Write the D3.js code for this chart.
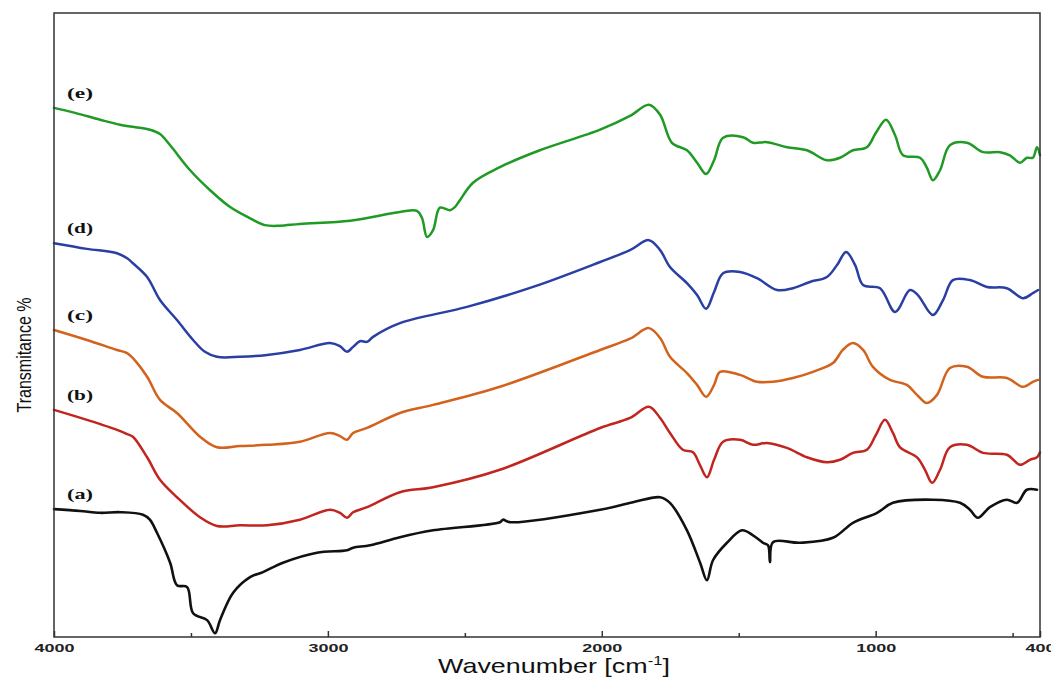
<!DOCTYPE html>
<html>
<head>
<meta charset="utf-8">
<script src="https://cdn.jsdelivr.net/npm/d3@7"></script>
<style>
  body { margin: 0; background: #fff; }
  svg { display: block; }
</style>
</head>
<body>
<svg id="chart" width="1051" height="677"></svg>
<script>
// FTIR spectra: [wavenumber (cm-1), transmittance (%)]
const seriesA = [[4000,20.5],[3905,20.2],[3832,19.9],[3759,20.0],[3675,19.6],[3650,18.8],[3624,16.7],[3576,11.9],[3551,8.3],[3514,8.0],[3492,3.8],[3441,2.7],[3412,0.6],[3394,2.7],[3346,7.1],[3284,9.6],[3237,10.4],[3164,11.9],[3040,13.5],[2930,13.9],[2908,14.3],[2846,14.7],[2737,16.0],[2616,17.1],[2372,18.4],[2361,18.8],[2335,18.4],[2006,20.4],[1886,21.6],[1787,22.4],[1751,21.5],[1689,17.1],[1641,11.9],[1616,9.1],[1594,12.3],[1543,15.1],[1488,17.1],[1448,16.3],[1411,15.1],[1393,14.7],[1386,12.0],[1375,15.2],[1276,15.1],[1156,15.9],[1083,18.3],[995,19.9],[937,21.5],[791,22.0],[692,21.5],[656,20.4],[627,19.1],[583,20.8],[521,22.0],[484,21.5],[448,23.6],[411,23.6]];

const seriesB = [[4000,36.4],[3880,34.8],[3770,33.2],[3733,32.5],[3712,32.1],[3660,28.8],[3613,25.2],[3551,22.4],[3467,19.2],[3405,17.8],[3321,17.9],[3222,17.9],[3102,18.8],[2992,20.4],[2956,19.9],[2930,19.1],[2908,20.0],[2857,20.8],[2737,23.2],[2616,24.0],[2372,26.8],[2006,33.5],[1897,35.1],[1828,36.9],[1787,35.1],[1751,32.7],[1704,30.0],[1667,29.6],[1642,27.6],[1616,25.6],[1590,28.4],[1557,31.3],[1495,31.6],[1448,30.8],[1397,31.1],[1324,30.3],[1251,28.8],[1178,28.0],[1130,28.4],[1083,29.5],[1032,30.0],[999,32.4],[966,34.8],[937,32.7],[911,30.4],[849,28.8],[820,26.8],[794,24.7],[765,26.8],[729,30.4],[667,30.8],[608,29.5],[521,29.2],[473,27.6],[437,28.4],[411,28.8],[400,29.6]];

const seriesC = [[4000,49.2],[3880,47.6],[3770,46.0],[3733,45.5],[3712,44.7],[3660,41.7],[3613,38.0],[3551,35.9],[3467,32.1],[3405,30.4],[3321,30.6],[3222,30.8],[3102,31.3],[2992,32.7],[2956,32.2],[2930,31.6],[2908,32.7],[2857,33.5],[2737,35.9],[2616,37.2],[2372,40.1],[2006,46.0],[1897,47.8],[1828,49.5],[1787,47.9],[1751,44.9],[1689,42.3],[1652,40.4],[1619,38.5],[1590,40.4],[1568,42.5],[1495,42.0],[1433,40.9],[1375,40.9],[1302,41.5],[1229,42.5],[1156,43.9],[1120,46.0],[1083,47.1],[1046,46.0],[1010,43.3],[948,41.2],[886,40.4],[849,38.8],[813,37.5],[776,38.8],[729,43.1],[667,43.3],[608,41.7],[521,41.5],[462,40.1],[426,40.9],[407,41.2]];

const seriesD = [[4000,63.1],[3880,62.2],[3770,61.5],[3733,60.7],[3712,59.9],[3660,57.7],[3613,54.0],[3551,50.8],[3492,47.6],[3449,45.7],[3405,44.9],[3321,44.9],[3222,45.2],[3102,46.0],[2992,47.1],[2956,46.6],[2930,45.7],[2908,46.5],[2883,47.4],[2857,47.3],[2835,48.1],[2737,50.3],[2492,52.9],[2251,56.1],[2006,60.1],[1897,62.0],[1828,63.6],[1787,62.0],[1751,59.3],[1689,56.7],[1652,54.8],[1619,52.6],[1590,55.3],[1557,58.3],[1495,58.5],[1433,57.5],[1360,55.6],[1302,55.9],[1240,56.9],[1178,57.7],[1141,59.6],[1108,61.7],[1075,59.6],[1046,56.4],[984,55.9],[929,52.1],[875,55.6],[846,54.8],[791,51.6],[754,54.0],[718,57.2],[656,57.2],[594,56.1],[521,55.9],[462,54.3],[426,55.1],[407,55.6]];

const seriesE = [[4000,84.8],[3923,84.0],[3832,82.9],[3759,82.1],[3686,81.6],[3650,81.3],[3613,80.6],[3576,78.8],[3503,74.8],[3430,71.6],[3357,68.9],[3284,67.1],[3230,66.0],[3175,65.9],[3102,66.2],[2919,66.7],[2737,68.1],[2675,68.3],[2656,67.1],[2638,64.1],[2616,65.2],[2591,68.8],[2554,68.4],[2536,68.9],[2518,70.0],[2470,72.8],[2372,75.3],[2226,78.0],[2006,81.3],[1897,83.5],[1828,85.3],[1787,83.7],[1744,79.2],[1689,78.0],[1652,76.0],[1619,74.2],[1590,76.4],[1557,80.0],[1484,80.1],[1448,79.2],[1397,79.3],[1324,78.5],[1251,78.0],[1178,76.4],[1130,76.8],[1083,78.0],[1032,78.5],[999,80.8],[962,82.9],[929,80.4],[900,77.2],[838,76.8],[813,75.2],[791,73.2],[765,74.8],[729,78.8],[667,79.2],[608,77.7],[546,77.7],[510,77.2],[473,76.0],[448,76.8],[426,76.8],[411,78.5],[400,77.2]];

const seriesData   = [seriesA, seriesB, seriesC, seriesD, seriesE];
const seriesNames  = ["(a)", "(b)", "(c)", "(d)", "(e)"];
const seriesColors = ["#111111", "#c0261f", "#d2621c", "#2a3fa3", "#1f9a24"];

const majorTicks = [4000, 3000, 2000, 1000, 400];
const minorTicks = [3500, 2500, 1500, 500];

const svg = d3.select("#chart");
const plot = { left: 54, right: 1040, top: 13, bottom: 637 };

const x = d3.scaleLinear().domain([4000, 400]).range([plot.left, plot.right]);
const y = d3.scaleLinear().domain([0, 100]).range([plot.bottom, plot.top]);

// spectra
const line = d3.line()
  .x(d => x(d[0]))
  .y(d => y(d[1]))
  .curve(d3.curveCatmullRom.alpha(0.5));

svg.append("g").selectAll("path")
  .data(seriesData)
  .join("path")
  .attr("d", line)
  .attr("fill", "none")
  .attr("stroke", (d, i) => seriesColors[i])
  .attr("stroke-width", (d, i) => i === 0 ? 2.6 : 2.5)
  .attr("stroke-linejoin", "round")
  .attr("stroke-linecap", "round");

// series labels, placed just above where each trace starts
svg.append("g").selectAll("text")
  .data(seriesData)
  .join("text")
  .attr("x", plot.left + 13)
  .attr("y", d => y(d[0][1]) - 10)
  .attr("font-family", "'Liberation Serif', 'Times New Roman', serif")
  .attr("font-weight", "bold")
  .attr("font-size", 15)
  .attr("textLength", 26)
  .attr("lengthAdjust", "spacingAndGlyphs")
  .attr("fill", "#111")
  .text((d, i) => seriesNames[i]);

// frame
svg.append("rect")
  .attr("x", plot.left).attr("y", plot.top)
  .attr("width", plot.right - plot.left)
  .attr("height", plot.bottom - plot.top)
  .attr("fill", "none")
  .attr("stroke", "#333")
  .attr("stroke-width", 1.5);

// x axis: inward ticks
const xAxis = svg.append("g")
  .attr("transform", `translate(0,${plot.bottom})`)
  .call(d3.axisBottom(x).tickValues(majorTicks).tickSize(-6).tickPadding(8).tickFormat(d3.format("d")));
xAxis.select(".domain").remove();
xAxis.selectAll(".tick line").attr("stroke", "#333").attr("stroke-width", 1.5);
xAxis.selectAll(".tick text")
  .attr("font-family", "'Liberation Sans', Arial, sans-serif")
  .attr("font-weight", "bold")
  .attr("font-size", 10)
  .attr("fill", "#222")
  .attr("textLength", d => String(d).length * 10)
  .attr("lengthAdjust", "spacingAndGlyphs");

const xMinor = svg.append("g")
  .attr("transform", `translate(0,${plot.bottom})`)
  .call(d3.axisBottom(x).tickValues(minorTicks).tickSize(-4).tickFormat(""));
xMinor.select(".domain").remove();
xMinor.selectAll(".tick line").attr("stroke", "#333").attr("stroke-width", 1.5);

// axis titles
const title = svg.append("text")
  .attr("transform", `translate(${(plot.left + plot.right) / 2 + 7},673) scale(1.28,1)`)
  .attr("text-anchor", "middle")
  .attr("font-family", "'Liberation Sans', Arial, sans-serif")
  .attr("font-size", 21)
  .attr("fill", "#111");
title.append("tspan").text("Wavenumber [cm");
title.append("tspan").attr("font-size", 13).attr("dy", -8).text("-1");
title.append("tspan").attr("dy", 8).text("]");

svg.append("text")
  .attr("transform", "translate(31,355) scale(1.28,1) rotate(-90)")
  .attr("text-anchor", "middle")
  .attr("font-family", "'Liberation Sans', Arial, sans-serif")
  .attr("font-size", 16)
  .attr("fill", "#111")
  .text("Transmitance %");
</script>
</body>
</html>
